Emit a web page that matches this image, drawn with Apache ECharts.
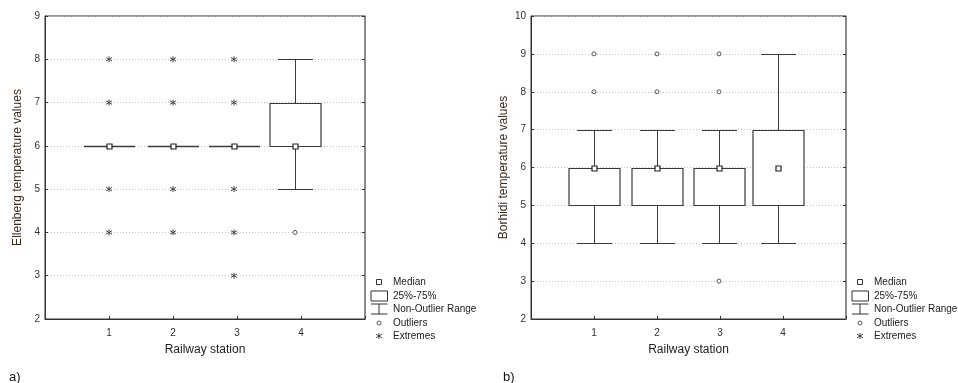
<!DOCTYPE html>
<html><head><meta charset="utf-8">
<script src="https://cdn.jsdelivr.net/npm/echarts@6/dist/echarts.min.js"></script>
<style>html,body{margin:0;padding:0;background:#fff}#c{width:958px;height:383px}</style>
</head><body><div id="c"></div>
<script>
// ---- data ----
const stations = [1, 2, 3, 4];
const xTickLabels = ['1', '2', '3', '4'];
// a) Ellenberg temperature values
const ellMin = [6, 6, 6, 5];
const ellQ1  = [6, 6, 6, 6];
const ellMed = [6, 6, 6, 6];
const ellQ3  = [6, 6, 6, 7];
const ellMax = [6, 6, 6, 8];
const ellOutliers = [[4, 4]];
const ellExtremes = [[1, 4], [1, 5], [1, 7], [1, 8], [2, 4], [2, 5], [2, 7], [2, 8], [3, 3], [3, 4], [3, 5], [3, 7], [3, 8]];
// b) Borhidi temperature values
const borMin = [4, 4, 4, 4];
const borQ1  = [5, 5, 5, 5];
const borMed = [6, 6, 6, 6];
const borQ3  = [6, 6, 6, 7];
const borMax = [7, 7, 7, 9];
const borOutliers = [[1, 8], [1, 9], [2, 8], [2, 9], [3, 3], [3, 8], [3, 9]];
const borExtremes = [];
const ellYTicks = [2, 3, 4, 5, 6, 7, 8, 9];
const borYTicks = [2, 3, 4, 5, 6, 7, 8, 9, 10];

// ---- style ----
const FONT = 'Liberation Sans, Arial, sans-serif';
const LINE = '#3a3a3a';
const ellOffsets = [0, 0, -3, -6];   // pixel shift of each box from its tick
const borOffsets = [0, 0, -1, -5];

const chart = echarts.init(document.getElementById('c'), null, {renderer: 'canvas'});

function boxData(mn, q1, md, q3, mx) {
  return stations.map((s, i) => [s, mn[i], q1[i], md[i], q3[i], mx[i]]);
}
function boxRender(offsets) {
  return function (params, api) {
    const x = api.value(0);
    const off = offsets[params.dataIndex];
    const cx = Math.round(api.coord([x, 0])[0] + off) + 0.5;
    const y = v => Math.round(api.coord([x, v])[1]) + 0.5;
    const yMin = y(api.value(1)), yQ1 = y(api.value(2)), yMed = y(api.value(3)),
          yQ3 = y(api.value(4)), yMax = y(api.value(5));
    const bw = 51, cw = 35;
    const st = {stroke: LINE, lineWidth: 1, fill: null};
    const ch = [];
    if (yMax < yQ3) {
      ch.push({type: 'line', shape: {x1: cx, y1: yQ3, x2: cx, y2: yMax}, style: st});
      ch.push({type: 'line', shape: {x1: cx - cw / 2, y1: yMax, x2: cx + cw / 2, y2: yMax}, style: st});
    }
    if (yMin > yQ1) {
      ch.push({type: 'line', shape: {x1: cx, y1: yQ1, x2: cx, y2: yMin}, style: st});
      ch.push({type: 'line', shape: {x1: cx - cw / 2, y1: yMin, x2: cx + cw / 2, y2: yMin}, style: st});
    }
    if (yQ1 === yQ3) {
      ch.push({type: 'line', shape: {x1: cx - bw / 2, y1: yQ1, x2: cx + bw / 2, y2: yQ1}, style: {stroke: LINE, lineWidth: 1.4}});
    } else {
      ch.push({type: 'rect', shape: {x: cx - bw / 2, y: yQ3, width: bw, height: yQ1 - yQ3}, style: {stroke: LINE, lineWidth: 1.2, fill: '#fff'}});
    }
    ch.push({type: 'rect', shape: {x: cx - 2.5, y: yMed - 2.5, width: 5, height: 5}, style: {stroke: '#222', lineWidth: 1.2, fill: '#fff'}});
    return {type: 'group', children: ch};
  };
}
function pointRender(offsets, kind) {
  return function (params, api) {
    const x = api.value(0);
    const p = api.coord([x, api.value(1)]);
    const cx = p[0] + offsets[x - 1], cy = p[1];
    if (kind === 'out') {
      return {type: 'circle', shape: {cx: cx, cy: cy, r: 2}, style: {stroke: '#444', lineWidth: 0.9, fill: '#fff'}};
    }
    const r = 3, st = {stroke: '#333', lineWidth: 0.9};
    return {type: 'group', children: [
      {type: 'line', shape: {x1: cx, y1: cy - r, x2: cx, y2: cy + r}, style: st},
      {type: 'line', shape: {x1: cx - r, y1: cy - r * 0.6, x2: cx + r, y2: cy + r * 0.6}, style: st},
      {type: 'line', shape: {x1: cx - r, y1: cy + r * 0.6, x2: cx + r, y2: cy - r * 0.6}, style: st}
    ]};
  };
}

const grids = [
  {left: 45, top: 16, width: 320, height: 303},
  {left: 531, top: 16, width: 315, height: 303}
];
function xAx(gi) {
  return {
    type: 'value', gridIndex: gi, min: 0, max: 5, interval: 1,
    name: 'Railway station', nameLocation: 'middle', nameGap: 25,
    nameTextStyle: {fontFamily: FONT, fontSize: 12, color: '#222'},
    axisLine: {show: true, lineStyle: {color: '#333', width: 1}},
    axisTick: {show: true, inside: true, length: 3, lineStyle: {color: '#333'}},
    axisLabel: {fontFamily: FONT, fontSize: 10, color: '#333', margin: 9,
      formatter: v => (v >= 1 && v <= 4) ? xTickLabels[v - 1] : ''},
    splitLine: {show: false}
  };
}
function yAx(gi, min, max, name, ticks) {
  return {
    type: 'value', gridIndex: gi, min: min, max: max, interval: 1,
    name: name, nameLocation: 'middle', nameGap: 21,
    nameTextStyle: {fontFamily: FONT, fontSize: 12, color: '#3b2a1e'},
    axisLine: {show: true, lineStyle: {color: '#333', width: 1}},
    axisTick: {show: true, inside: true, length: 3, lineStyle: {color: '#333'}},
    axisLabel: {fontFamily: FONT, fontSize: 10, color: '#333', margin: 5,
      formatter: v => ticks.indexOf(v) >= 0 ? String(v) : ''},
    splitLine: {show: true, lineStyle: {color: '#c4c4c4', type: [1, 2], width: 1}}
  };
}
function yAxRight(gi, min, max) {
  return {
    type: 'value', gridIndex: gi, min: min, max: max, interval: 1, position: 'right',
    axisLine: {show: true, lineStyle: {color: '#8a8a8a', width: 1.6}},
    axisTick: {show: true, inside: true, length: 3, lineStyle: {color: '#333'}},
    axisLabel: {show: false}, splitLine: {show: false}
  };
}

function legendGraphic(sx, tx) {
  const rows = [282, 296, 309, 323, 336];
  const labels = ['Median', '25%-75%', 'Non-Outlier Range', 'Outliers', 'Extremes'];
  const g = [];
  const st = {stroke: '#333', lineWidth: 1, fill: null};
  g.push({type: 'rect', shape: {x: sx - 2.5, y: rows[0] - 2.5, width: 5, height: 5}, style: {stroke: '#333', lineWidth: 1, fill: '#fff'}});
  g.push({type: 'rect', shape: {x: sx - 8, y: rows[1] - 5, width: 16.5, height: 10}, style: {stroke: '#333', lineWidth: 1, fill: '#fff'}});
  g.push({type: 'line', shape: {x1: sx - 8, y1: rows[2] - 5, x2: sx + 8.5, y2: rows[2] - 5}, style: st});
  g.push({type: 'line', shape: {x1: sx - 8, y1: rows[2] + 5, x2: sx + 8.5, y2: rows[2] + 5}, style: st});
  g.push({type: 'line', shape: {x1: sx, y1: rows[2] - 5, x2: sx, y2: rows[2] + 5}, style: st});
  g.push({type: 'circle', shape: {cx: sx, cy: rows[3], r: 2}, style: {stroke: '#444', lineWidth: 0.9, fill: '#fff'}});
  const r = 3, cy = rows[4], es = {stroke: '#333', lineWidth: 0.9};
  g.push({type: 'line', shape: {x1: sx, y1: cy - r, x2: sx, y2: cy + r}, style: es});
  g.push({type: 'line', shape: {x1: sx - r, y1: cy - r * 0.6, x2: sx + r, y2: cy + r * 0.6}, style: es});
  g.push({type: 'line', shape: {x1: sx - r, y1: cy + r * 0.6, x2: sx + r, y2: cy - r * 0.6}, style: es});
  labels.forEach((t, i) => g.push({type: 'text', x: tx, y: rows[i],
    style: {text: t, fontFamily: FONT, fontSize: 10, fill: '#222', textVerticalAlign: 'middle', verticalAlign: 'middle'}}));
  return g;
}

const option = {
  animation: false,
  backgroundColor: '#fff',
  grid: grids.map(g => Object.assign({show: true, borderColor: '#333', borderWidth: 1, backgroundColor: 'transparent'}, g)),
  xAxis: [xAx(0), xAx(1)],
  yAxis: [
    yAx(0, 2, 9, 'Ellenberg temperature values', ellYTicks),
    yAx(1, 2, 10, 'Borhidi temperature values', borYTicks),
    yAxRight(0, 2, 9), yAxRight(1, 2, 10)
  ],
  series: [
    {type: 'custom', xAxisIndex: 0, yAxisIndex: 0, renderItem: boxRender(ellOffsets),
      data: boxData(ellMin, ellQ1, ellMed, ellQ3, ellMax), encode: {x: 0, y: [1, 2, 3, 4, 5]}, z: 3},
    {type: 'custom', xAxisIndex: 0, yAxisIndex: 0, renderItem: pointRender(ellOffsets, 'out'), data: ellOutliers, z: 4},
    {type: 'custom', xAxisIndex: 0, yAxisIndex: 0, renderItem: pointRender(ellOffsets, 'ext'), data: ellExtremes, z: 4},
    {type: 'custom', xAxisIndex: 1, yAxisIndex: 1, renderItem: boxRender(borOffsets),
      data: boxData(borMin, borQ1, borMed, borQ3, borMax), encode: {x: 0, y: [1, 2, 3, 4, 5]}, z: 3},
    {type: 'custom', xAxisIndex: 1, yAxisIndex: 1, renderItem: pointRender(borOffsets, 'out'), data: borOutliers, z: 4},
    {type: 'custom', xAxisIndex: 1, yAxisIndex: 1, renderItem: pointRender(borOffsets, 'ext'), data: borExtremes, z: 4}
  ],
  graphic: [].concat(
    legendGraphic(379, 393),
    legendGraphic(860, 874),
    [
      {type: 'text', x: 9, y: 377, style: {text: 'a)', fontFamily: FONT, fontSize: 13, fill: '#111', verticalAlign: 'middle', textVerticalAlign: 'middle'}},
      {type: 'text', x: 503, y: 377, style: {text: 'b)', fontFamily: FONT, fontSize: 13, fill: '#111', verticalAlign: 'middle', textVerticalAlign: 'middle'}}
    ]
  )
};
chart.setOption(option);
</script>
</body></html>
